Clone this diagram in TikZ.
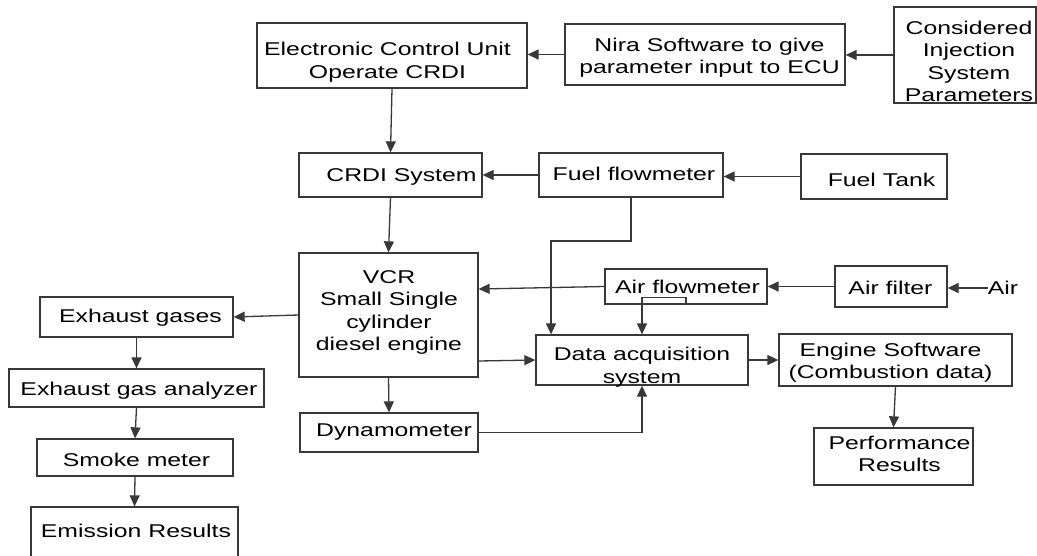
\documentclass[tikz,border=0pt]{standalone}
\usepackage{fontspec}
\setmainfont[FakeStretch=1.34]{Liberation Sans}
\usetikzlibrary{arrows.meta}
\definecolor{ln}{HTML}{383838}
\begin{document}
\begin{tikzpicture}[x=1pt,y=-1pt,
  box/.style={draw=ln, line width=1.3pt, inner sep=0pt, rectangle},
  sz/.style 2 args={minimum width=#1pt, minimum height=#2pt},
  txt/.style={font=\fontsize{18.5}{22.5}\selectfont, align=center, inner sep=0pt, text=black},
  arr/.style={draw=ln, line width=1.3pt, -{Triangle[length=11pt,width=10pt]}}]
\useasboundingbox (0,0) rectangle (1037,555);
\fill[white] (0,0) rectangle (1037,555);
% boxes
\node[box, sz={270}{65}]  (ecu)   at (392,55.5) {};
\node[box, sz={280}{61}]  (nira)  at (705,54.5) {};
\node[box, sz={142}{96}]  (cons)  at (965,55) {};
\node[box, sz={183}{44}]  (crdi)  at (390.5,175) {};
\node[box, sz={184}{44}]  (ffm)   at (631,175) {};
\node[box, sz={146}{45}]  (tank)  at (874,176.5) {};
\node[box, sz={179}{124}] (vcr)   at (388.5,315) {};
\node[box, sz={162}{35}]  (afm)   at (686,286.5) {};
\node[box, sz={112}{41}]  (afil)  at (891,286.5) {};
\node[box, sz={193}{40}]  (exh)   at (136.5,317) {};
\node[box, sz={255}{38}]  (ana)   at (136.5,388) {};
\node[box, sz={196}{37}]  (smoke) at (135,457.5) {};
\node[box, sz={207}{58}]  (emis)  at (134.5,536) {};
\node[box, sz={212}{50}]  (daq)   at (642,360) {};
\node[box, sz={233}{52}]  (eng)   at (895.5,360) {};
\node[box, sz={178}{39}]  (dyn)   at (389,432.5) {};
\node[box, sz={159}{57}]  (perf)  at (893.5,456.5) {};
% texts
\node[txt] (tecu)   at (387.5,62) {Electronic Control Unit\\Operate CRDI};
\node[txt] (tnira)  at (709.5,57.5) {Nira Software to give\\parameter input to ECU};
\node[txt] (tcons)  at (969,61.5) {Considered\\Injection\\System\\Parameters};
\node[txt] (tcrdi)  at (401.5,177) {CRDI System};
\node[txt] (tffm)   at (634,174) {Fuel flowmeter};
\node[txt] (ttank)  at (881.5,180) {Fuel Tank};
\node[txt] (tvcr)   at (389,312.5) {VCR\\Small Single\\cylinder\\diesel engine};
\node[txt] (tafm)   at (687.5,287) {Air flowmeter};
\node[txt] (tafil)  at (890.5,288) {Air filter};
\node[txt] (airsrc) at (1003,288) {Air};
\node[txt] (texh)   at (140.5,318) {Exhaust gases};
\node[txt] (tana)   at (139,391) {Exhaust gas analyzer};
\node[txt] (tsmoke) at (136.5,460) {Smoke meter};
\node[txt] (temis)  at (136,531) {Emission Results};
\node[txt] (tdaq)   at (642,367) {Data acquisition\\system};
\node[txt] (teng)   at (890.5,362.5) {Engine Software\\(Combustion data)};
\node[txt] (tdyn)   at (394,432) {Dynamometer};
\node[txt] (tperf)  at (899.5,454) {Performance\\Results};
% connectors
\draw[arr] (cons.west) -- (cons.west -| nira.east);
\draw[arr] (nira.west) -- (nira.west -| ecu.east);
\draw[arr] (ecu.south) -- (crdi.north);
\draw[arr] (tank.west) -- (tank.west -| ffm.east);
\draw[arr] (ffm.west) -- (ffm.west -| crdi.east);
\draw[arr] (crdi.south) -- (vcr.north);
\coordinate (fb) at (551,241);
\draw[arr] (ffm.south) |- (fb) -- (fb |- daq.north);
\draw[arr] (airsrc.west) -- (airsrc.west -| afil.east);
\draw[arr] (afil.west) -- (afil.west -| afm.east);
\draw[arr] (afm.west) -- ([yshift=26pt]vcr.east);
\draw[arr] (afm.south) -- ++(0,-7) -| (daq.north);
\draw[arr] (vcr.west) -- (exh.east);
\draw[arr] (exh.south) -- (ana.north);
\draw[arr] (ana.south) -- (smoke.north);
\draw[arr] (smoke.south) -- (emis.north);
\draw[arr] ([yshift=-46pt]vcr.east) -- (daq.west);
\draw[arr] (vcr.south) -- (dyn.north);
\draw[arr] (dyn.east) -| (daq.south);
\draw[arr] (daq.east) -- (daq.east -| eng.west);
\draw[arr] (eng.south) -- (perf.north);
\end{tikzpicture}
\end{document}
